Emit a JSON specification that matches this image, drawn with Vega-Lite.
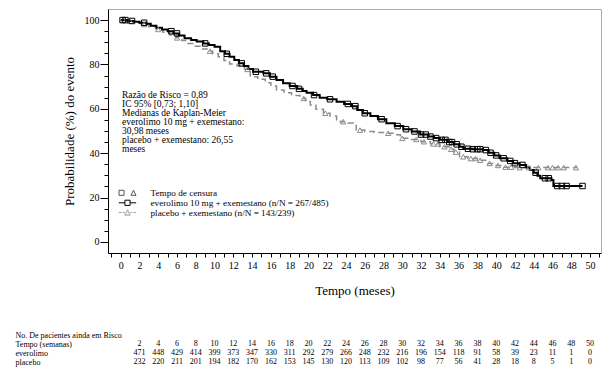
{
  "$schema": "https://vega.github.io/schema/vega-lite/v6.json",
  "width": 493,
  "height": 244,
  "autosize": {"type": "none"},
  "padding": {"left": 108, "top": 9, "right": 13, "bottom": 125},
  "background": "white",
  "config": {
    "view": {"stroke": "#aaaaaa", "strokeWidth": 1},
    "font": "Liberation Serif",
    "axis": {"labelFont": "Liberation Serif", "titleFont": "Liberation Serif", "labelColor": "black", "titleColor": "black", "domainColor": "black", "tickColor": "black", "titleFontWeight": "normal", "grid": false},
    "legend": {"orient": "none", "title": null, "padding": 0, "symbolSize": 300, "symbolStrokeWidth": 1, "symbolFillColor": "transparent",
      "labelFont": "Liberation Serif", "labelFontSize": 9.2, "labelColor": "black", "labelOffset": 13.5, "labelLimit": 400, "rowPadding": 0}
  },
  "title": {
    "text": ["Razão de Risco = 0,89", "IC 95% [0,73; 1,10]", "Medianas de Kaplan-Meier", "everolimo 10 mg + exemestano:", "30,98 meses", "placebo + exemestano: 26,55", "meses"],
    "anchor": "start",
    "frame": "group",
    "orient": "top",
    "offset": 0,
    "dx": 14,
    "dy": 145,
    "baseline": "top",
    "font": "Liberation Serif",
    "fontSize": 9.5,
    "fontWeight": "normal",
    "lineHeight": 9.1,
    "color": "black"
  },
  "datasets": {
    "evero": [
      {"t": 0, "p": 100}, {"t": 0.7, "p": 99.6}, {"t": 1.4, "p": 99.2}, {"t": 2, "p": 98.8}, {"t": 2.7, "p": 98.3},
      {"t": 3.2, "p": 97.5}, {"t": 3.8, "p": 96.5}, {"t": 4.4, "p": 95.8}, {"t": 5, "p": 95}, {"t": 5.6, "p": 94},
      {"t": 6.2, "p": 93}, {"t": 6.8, "p": 91.8}, {"t": 7.5, "p": 91}, {"t": 8.1, "p": 90.3}, {"t": 8.8, "p": 89.5},
      {"t": 9.4, "p": 88.8}, {"t": 10, "p": 88}, {"t": 10.6, "p": 86}, {"t": 11.1, "p": 84.8}, {"t": 11.6, "p": 83.5},
      {"t": 12.1, "p": 82}, {"t": 12.6, "p": 80.5}, {"t": 13.1, "p": 79.3}, {"t": 13.6, "p": 78}, {"t": 14.1, "p": 76.7},
      {"t": 15.2, "p": 76}, {"t": 15.9, "p": 74.5}, {"t": 16.6, "p": 73}, {"t": 17.3, "p": 71.5}, {"t": 18, "p": 70.3},
      {"t": 18.8, "p": 69}, {"t": 19.4, "p": 68}, {"t": 19.8, "p": 67.3}, {"t": 20.5, "p": 66.2}, {"t": 21.2, "p": 65},
      {"t": 22, "p": 64.3}, {"t": 23, "p": 63.2}, {"t": 23.8, "p": 62.2}, {"t": 24.6, "p": 61.2}, {"t": 25.2, "p": 59.5},
      {"t": 25.8, "p": 58}, {"t": 26.6, "p": 56.8}, {"t": 27.4, "p": 55.3}, {"t": 28.3, "p": 53.5}, {"t": 29.2, "p": 52.2},
      {"t": 30.1, "p": 50.8}, {"t": 31, "p": 49.8}, {"t": 31.9, "p": 48.4}, {"t": 32.8, "p": 47.5}, {"t": 33.4, "p": 46.8},
      {"t": 34, "p": 46}, {"t": 34.8, "p": 45}, {"t": 35.5, "p": 44}, {"t": 36.1, "p": 42.9}, {"t": 36.5, "p": 42},
      {"t": 37.5, "p": 41.8}, {"t": 38.6, "p": 41.4}, {"t": 39.2, "p": 40.2}, {"t": 39.8, "p": 39}, {"t": 40.4, "p": 37.7},
      {"t": 41.2, "p": 36.5}, {"t": 41.8, "p": 35.5}, {"t": 42.5, "p": 34.7}, {"t": 43.2, "p": 33.6}, {"t": 43.6, "p": 32.4},
      {"t": 44, "p": 31.2}, {"t": 44.4, "p": 29.8}, {"t": 44.7, "p": 28.7}, {"t": 45.9, "p": 27.9}, {"t": 46.1, "p": 25.2},
      {"t": 49.2, "p": 25.2}
    ],
    "plac": [
      {"t": 0, "p": 100}, {"t": 0.8, "p": 99.5}, {"t": 1.5, "p": 98.8}, {"t": 2.2, "p": 98}, {"t": 3, "p": 97},
      {"t": 3.8, "p": 95.8}, {"t": 4.5, "p": 94.5}, {"t": 5.2, "p": 93.3}, {"t": 5.9, "p": 92}, {"t": 6.5, "p": 90.8},
      {"t": 7, "p": 89.5}, {"t": 7.8, "p": 88.2}, {"t": 8.5, "p": 87}, {"t": 9.2, "p": 86}, {"t": 9.8, "p": 84.8},
      {"t": 10.4, "p": 83.5}, {"t": 11, "p": 81.8}, {"t": 11.6, "p": 80.2}, {"t": 12.4, "p": 79.3}, {"t": 13.2, "p": 77.8},
      {"t": 13.8, "p": 74.5}, {"t": 14.6, "p": 73.3}, {"t": 15.4, "p": 71.8}, {"t": 16, "p": 70.3}, {"t": 16.6, "p": 68.5},
      {"t": 17.4, "p": 67.2}, {"t": 18.2, "p": 66}, {"t": 19.1, "p": 64.7}, {"t": 19.7, "p": 63.3}, {"t": 20.2, "p": 61.7},
      {"t": 20.8, "p": 59.8}, {"t": 21.6, "p": 58}, {"t": 22.3, "p": 56.8}, {"t": 23, "p": 55}, {"t": 23.4, "p": 54.2},
      {"t": 24.2, "p": 53.6}, {"t": 24.8, "p": 52.5}, {"t": 25.1, "p": 50.4}, {"t": 26, "p": 49.8}, {"t": 27, "p": 49.3},
      {"t": 28.3, "p": 49}, {"t": 29, "p": 48.3}, {"t": 29.8, "p": 46.7}, {"t": 31, "p": 46.2}, {"t": 32, "p": 45.2},
      {"t": 33, "p": 44.2}, {"t": 34, "p": 42.9}, {"t": 35, "p": 41.8}, {"t": 35.5, "p": 40.5}, {"t": 36.1, "p": 38.4},
      {"t": 37, "p": 37.6}, {"t": 38, "p": 36.8}, {"t": 39, "p": 35.4}, {"t": 39.8, "p": 34.5}, {"t": 40.8, "p": 33.7},
      {"t": 42, "p": 33.5}, {"t": 48.6, "p": 33.5}
    ],
    "censE": [
      {"t": 0.2, "p": 100}, {"t": 0.5, "p": 100}, {"t": 1.2, "p": 99.6}, {"t": 2.5, "p": 98.8}, {"t": 5.4, "p": 95},
      {"t": 6.0, "p": 94}, {"t": 9.0, "p": 89.5}, {"t": 11.3, "p": 84.8}, {"t": 12.9, "p": 80.5}, {"t": 14.4, "p": 76.7},
      {"t": 15.5, "p": 76}, {"t": 16.2, "p": 74.5}, {"t": 18.3, "p": 70.3}, {"t": 19.0, "p": 69}, {"t": 20.6, "p": 66.2},
      {"t": 22.3, "p": 64.3}, {"t": 24.2, "p": 62.2}, {"t": 25.0, "p": 61.2}, {"t": 26.0, "p": 58}, {"t": 27.8, "p": 55.3},
      {"t": 29.5, "p": 52.2}, {"t": 30.4, "p": 50.8}, {"t": 31.3, "p": 49.8}, {"t": 32.0, "p": 48.4}, {"t": 32.5, "p": 48.4},
      {"t": 33.0, "p": 47.5}, {"t": 33.6, "p": 46.8}, {"t": 34.2, "p": 46}, {"t": 34.6, "p": 46}, {"t": 35.0, "p": 45},
      {"t": 35.3, "p": 45}, {"t": 35.8, "p": 44}, {"t": 36.3, "p": 42.9}, {"t": 37.0, "p": 42}, {"t": 37.5, "p": 41.8},
      {"t": 38.0, "p": 41.8}, {"t": 38.3, "p": 41.8}, {"t": 38.9, "p": 41.4}, {"t": 39.4, "p": 40.2}, {"t": 40.0, "p": 39},
      {"t": 40.8, "p": 37.7}, {"t": 41.5, "p": 36.5}, {"t": 42.0, "p": 35.5}, {"t": 42.8, "p": 34.7}, {"t": 44.2, "p": 31.2},
      {"t": 45.2, "p": 28.7}, {"t": 45.6, "p": 28.7}, {"t": 46.5, "p": 25.2}, {"t": 47.0, "p": 25.2}, {"t": 47.5, "p": 25.2},
      {"t": 49.2, "p": 25.2}
    ],
    "censP": [
      {"t": 0.3, "p": 100}, {"t": 1.0, "p": 99.5}, {"t": 2.5, "p": 98}, {"t": 4.0, "p": 95.8}, {"t": 6.0, "p": 92},
      {"t": 9.5, "p": 86}, {"t": 13.5, "p": 77.8}, {"t": 19.5, "p": 64.7}, {"t": 21.8, "p": 58}, {"t": 23.7, "p": 54.2},
      {"t": 25.5, "p": 50.4}, {"t": 28.5, "p": 49}, {"t": 30.0, "p": 46.7}, {"t": 31.5, "p": 46.2}, {"t": 32.3, "p": 45.2},
      {"t": 33.3, "p": 44.2}, {"t": 33.8, "p": 44.2}, {"t": 34.5, "p": 42.9}, {"t": 35.2, "p": 41.8}, {"t": 35.7, "p": 40.5},
      {"t": 36.5, "p": 38.4}, {"t": 37.3, "p": 37.6}, {"t": 37.8, "p": 37.6}, {"t": 38.3, "p": 36.8}, {"t": 39.3, "p": 35.4},
      {"t": 40.2, "p": 34.5}, {"t": 41.0, "p": 33.7}, {"t": 41.6, "p": 33.7}, {"t": 42.5, "p": 33.5}, {"t": 43.5, "p": 33.5},
      {"t": 44.5, "p": 33.5}, {"t": 45.5, "p": 33.5}, {"t": 46.0, "p": 33.5}, {"t": 46.6, "p": 33.5}, {"t": 47.2, "p": 33.5},
      {"t": 48.5, "p": 33.5}
    ],
    "risk": [
      {"row": "Tempo (semanas)", "t": 2, "n": 2}, {"row": "Tempo (semanas)", "t": 4, "n": 4}, {"row": "Tempo (semanas)", "t": 6, "n": 6},
      {"row": "Tempo (semanas)", "t": 8, "n": 8}, {"row": "Tempo (semanas)", "t": 10, "n": 10}, {"row": "Tempo (semanas)", "t": 12, "n": 12},
      {"row": "Tempo (semanas)", "t": 14, "n": 14}, {"row": "Tempo (semanas)", "t": 16, "n": 16}, {"row": "Tempo (semanas)", "t": 18, "n": 18},
      {"row": "Tempo (semanas)", "t": 20, "n": 20}, {"row": "Tempo (semanas)", "t": 22, "n": 22}, {"row": "Tempo (semanas)", "t": 24, "n": 24},
      {"row": "Tempo (semanas)", "t": 26, "n": 26}, {"row": "Tempo (semanas)", "t": 28, "n": 28}, {"row": "Tempo (semanas)", "t": 30, "n": 30},
      {"row": "Tempo (semanas)", "t": 32, "n": 32}, {"row": "Tempo (semanas)", "t": 34, "n": 34}, {"row": "Tempo (semanas)", "t": 36, "n": 36},
      {"row": "Tempo (semanas)", "t": 38, "n": 38}, {"row": "Tempo (semanas)", "t": 40, "n": 40}, {"row": "Tempo (semanas)", "t": 42, "n": 42},
      {"row": "Tempo (semanas)", "t": 44, "n": 44}, {"row": "Tempo (semanas)", "t": 46, "n": 46}, {"row": "Tempo (semanas)", "t": 48, "n": 48},
      {"row": "Tempo (semanas)", "t": 50, "n": 50},
      {"row": "everolimo", "t": 2, "n": 471}, {"row": "everolimo", "t": 4, "n": 448}, {"row": "everolimo", "t": 6, "n": 429},
      {"row": "everolimo", "t": 8, "n": 414}, {"row": "everolimo", "t": 10, "n": 399}, {"row": "everolimo", "t": 12, "n": 373},
      {"row": "everolimo", "t": 14, "n": 347}, {"row": "everolimo", "t": 16, "n": 330}, {"row": "everolimo", "t": 18, "n": 311},
      {"row": "everolimo", "t": 20, "n": 292}, {"row": "everolimo", "t": 22, "n": 279}, {"row": "everolimo", "t": 24, "n": 266},
      {"row": "everolimo", "t": 26, "n": 248}, {"row": "everolimo", "t": 28, "n": 232}, {"row": "everolimo", "t": 30, "n": 216},
      {"row": "everolimo", "t": 32, "n": 196}, {"row": "everolimo", "t": 34, "n": 154}, {"row": "everolimo", "t": 36, "n": 118},
      {"row": "everolimo", "t": 38, "n": 91}, {"row": "everolimo", "t": 40, "n": 58}, {"row": "everolimo", "t": 42, "n": 39},
      {"row": "everolimo", "t": 44, "n": 23}, {"row": "everolimo", "t": 46, "n": 11}, {"row": "everolimo", "t": 48, "n": 1},
      {"row": "everolimo", "t": 50, "n": 0},
      {"row": "placebo", "t": 2, "n": 232}, {"row": "placebo", "t": 4, "n": 220}, {"row": "placebo", "t": 6, "n": 211},
      {"row": "placebo", "t": 8, "n": 201}, {"row": "placebo", "t": 10, "n": 194}, {"row": "placebo", "t": 12, "n": 182},
      {"row": "placebo", "t": 14, "n": 170}, {"row": "placebo", "t": 16, "n": 162}, {"row": "placebo", "t": 18, "n": 153},
      {"row": "placebo", "t": 20, "n": 145}, {"row": "placebo", "t": 22, "n": 130}, {"row": "placebo", "t": 24, "n": 120},
      {"row": "placebo", "t": 26, "n": 113}, {"row": "placebo", "t": 28, "n": 109}, {"row": "placebo", "t": 30, "n": 102},
      {"row": "placebo", "t": 32, "n": 98}, {"row": "placebo", "t": 34, "n": 77}, {"row": "placebo", "t": 36, "n": 56},
      {"row": "placebo", "t": 38, "n": 41}, {"row": "placebo", "t": 40, "n": 28}, {"row": "placebo", "t": 42, "n": 18},
      {"row": "placebo", "t": 44, "n": 8}, {"row": "placebo", "t": 46, "n": 5}, {"row": "placebo", "t": 48, "n": 1},
      {"row": "placebo", "t": 50, "n": 0}
    ]
  },
  "layer": [
    {
      "layer": [
        {
          "data": {"name": "plac"},
          "mark": {"type": "line", "interpolate": "step-after", "color": "#8c8c8c", "strokeWidth": 1.5, "strokeDash": [6, 4]},
          "encoding": {
            "x": {"field": "t", "type": "quantitative", "scale": {"domain": [-1.353, 51.17], "nice": false, "zero": false},
              "axis": {"values": [-1,0,1,2,3,4,5,6,7,8,9,10,11,12,13,14,15,16,17,18,19,20,21,22,23,24,25,26,27,28,29,30,31,32,33,34,35,36,37,38,39,40,41,42,43,44,45,46,47,48,49,50,51],
                "tickCount": 200, "format": "d",
                "labelExpr": "datum.value >= 0 && datum.value % 2 === 0 ? datum.label : ''",
                "tickSize": 4, "labelPadding": 3, "labelFontSize": 10, "labelOverlap": false, "labelFlush": false,
                "title": "Tempo (meses)", "titleFontSize": 13, "titlePadding": 14}},
            "y": {"field": "p", "type": "quantitative", "scale": {"domain": [-5, 105], "nice": false, "zero": false},
              "axis": {"values": [0,5,10,15,20,25,30,35,40,45,50,55,60,65,70,75,80,85,90,95,100],
                "tickCount": 200, "format": "d",
                "labelExpr": "datum.value % 20 === 0 ? datum.label : ''",
                "tickSize": {"condition": {"test": "datum.value % 20 === 0", "value": 8}, "value": 4},
                "labelPadding": 1, "labelFontSize": 10, "labelOverlap": false, "labelFlush": false,
                "title": "Probabilidade (%) do evento", "titleFontSize": 13, "titlePadding": 8}}
          }
        },
        {
          "data": {"name": "evero"},
          "mark": {"type": "line", "interpolate": "step-after", "color": "black", "strokeWidth": 2},
          "encoding": {
            "x": {"field": "t", "type": "quantitative"},
            "y": {"field": "p", "type": "quantitative"}
          }
        },
        {
          "data": {"name": "censP"},
          "mark": {"type": "point", "shape": "triangle-up", "filled": false, "color": "#8c8c8c", "size": 28, "strokeWidth": 1, "opacity": 1},
          "encoding": {
            "x": {"field": "t", "type": "quantitative"},
            "y": {"field": "p", "type": "quantitative"}
          }
        },
        {
          "data": {"name": "censE"},
          "mark": {"type": "point", "shape": "square", "filled": false, "color": "black", "size": 30, "strokeWidth": 1, "opacity": 1},
          "encoding": {
            "x": {"field": "t", "type": "quantitative"},
            "y": {"field": "p", "type": "quantitative"}
          }
        },
        {
          "data": {"values": []},
          "mark": {"type": "point", "filled": false, "opacity": 1, "color": "black"},
          "encoding": {
            "shape": {"field": "k1", "type": "nominal",
              "scale": {"domain": ["Tempo de censura"], "range": ["M-0.98,-0.29H-0.4V0.29H-0.98Z M0.4,0.29L0.69,-0.29L0.98,0.29Z"]},
              "legend": {"legendX": 10, "legendY": 174.3, "symbolStrokeColor": "#555555"}},
            "stroke": {"field": "k2", "type": "nominal",
              "scale": {"domain": ["everolimo 10 mg + exemestano (n/N = 267/485)"], "range": ["#000000"]},
              "legend": {"legendX": 10, "legendY": 184.3, "symbolType": "M-1,0H-0.3M0.3,0H1M-0.3,-0.3H0.3V0.3H-0.3Z"}},
            "strokeDash": {"field": "k3", "type": "nominal",
              "scale": {"domain": ["placebo + exemestano (n/N = 143/239)"], "range": [[1, 0]]},
              "legend": {"legendX": 10, "legendY": 194, "symbolStrokeColor": "#8c8c8c", "symbolType": "M-1,0H-0.7M-0.55,0H-0.32M0.32,0H0.55M0.7,0H1M-0.3,0.3L0,-0.3L0.3,0.3Z"}}
          }
        }
      ]
    },
    {
      "data": {"name": "risk"},
      "mark": {"type": "text", "font": "Liberation Serif", "fontSize": 8, "align": "center", "baseline": "middle", "color": "black", "fill": "black"},
      "encoding": {
        "x": {"field": "t", "type": "quantitative",
          "axis": {"values": [-1,0,1,2,3,4,5,6,7,8,9,10,11,12,13,14,15,16,17,18,19,20,21,22,23,24,25,26,27,28,29,30,31,32,33,34,35,36,37,38,39,40,41,42,43,44,45,46,47,48,49,50,51],
            "tickCount": 200, "format": "d",
            "labelExpr": "datum.value >= 0 && datum.value % 2 === 0 ? datum.label : ''",
            "tickSize": 4, "labelPadding": 3, "labelFontSize": 10, "labelOverlap": false, "labelFlush": false,
            "title": "Tempo (meses)", "titleFontSize": 13, "titlePadding": 14}},
        "y": {"field": "row", "type": "nominal",
          "scale": {"domain": ["No. De pacientes ainda em Risco", "Tempo (semanas)", "everolimo", "placebo"], "range": [326, 353], "padding": 0},
          "axis": {"orient": "left", "domain": false, "ticks": false, "tickSize": 0, "labelAlign": "left", "labelBaseline": "middle", "labelPadding": 93,
            "labelFont": "Liberation Serif", "labelFontSize": 8, "labelColor": "black", "title": null, "labelLimit": 300, "offset": 0}},
        "text": {"field": "n", "type": "quantitative"}
      }
    }
  ],
  "resolve": {"scale": {"y": "independent"}}
}
